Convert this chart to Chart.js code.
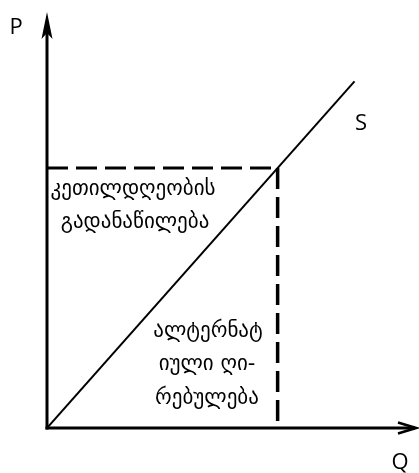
<!DOCTYPE html>
<html>
<head>
<meta charset="utf-8">
<script src="https://cdn.jsdelivr.net/npm/chart.js@4"></script>
<style>
  html, body { margin: 0; padding: 0; background: #fff; }
  #wrap { width: 419px; height: 473px; }
</style>
</head>
<body>
<div id="wrap"><canvas id="myChart" width="419" height="473"></canvas></div>
<script>
// axis ranges (Q horizontal, P vertical)
const qMax = 12;
const pMax = 12;
// supply curve S
const supplyQ = [0, 10];
const supplyP = [0, 10];
// equilibrium point
const eqQ = 7.5;
const eqP = 7.5;
// texts
const axisNames = ['P', 'Q', 'S'];
const welfareText = ['კეთილდღეობის', 'გადანაწილება'];
const altText = ['ალტერნატ', 'იული ღი-', 'რებულება'];

const supplyData = supplyQ.map((q, i) => ({x: q, y: supplyP[i]}));

// axes with arrows + labels
const drawExtras = {
    id: 'drawExtras',
    afterDatasetsDraw(chart) {
        const ctx = chart.ctx;
        const xs = chart.scales.x;
        const ys = chart.scales.y;
        const x0 = xs.getPixelForValue(0);
        const y0 = ys.getPixelForValue(0);
        const xEnd = xs.getPixelForValue(qMax);
        const yEnd = ys.getPixelForValue(pMax);
        ctx.save();
        ctx.strokeStyle = '#000';
        ctx.fillStyle = '#000';
        ctx.lineWidth = 3;
        // P axis
        ctx.beginPath();
        ctx.moveTo(x0, y0 + 1.5);
        ctx.lineTo(x0, yEnd + 15);
        ctx.stroke();
        ctx.beginPath();
        ctx.moveTo(x0, yEnd);
        ctx.lineTo(x0 - 5.5, yEnd + 27);
        ctx.lineTo(x0, yEnd + 21);
        ctx.lineTo(x0 + 5.5, yEnd + 27);
        ctx.closePath();
        ctx.fill();
        // Q axis
        ctx.beginPath();
        ctx.moveTo(x0 - 1.5, y0);
        ctx.lineTo(xEnd - 1, y0);
        ctx.stroke();
        ctx.lineWidth = 2.5;
        ctx.beginPath();
        ctx.moveTo(xEnd - 18, y0 - 5.5);
        ctx.lineTo(xEnd, y0);
        ctx.lineTo(xEnd - 18, y0 + 5.5);
        ctx.stroke();
        // axis letters
        ctx.font = '22px "Open Sans"';
        ctx.textAlign = 'center';
        ctx.textBaseline = 'middle';
        ctx.fillText(axisNames[0], 16, 28);
        ctx.fillText(axisNames[1], 400, 463);
        ctx.fillText(axisNames[2], 361, 124);
        // Georgian texts
        ctx.font = '21px "DejaVu Sans"';
        ctx.fillText(welfareText[0], 133, 190);
        ctx.fillText(welfareText[1], 135, 223);
        ctx.fillText(altText[0], 208, 332);
        ctx.fillText(altText[1], 207, 365);
        ctx.fillText(altText[2], 207, 399);
        ctx.restore();
    }
};

const config = {
    type: 'scatter',
    data: {
        datasets: [
            {
                label: 'S',
                data: supplyData,
                showLine: true,
                borderColor: '#000',
                borderWidth: 2,
                pointRadius: 0
            },
            {
                label: 'price',
                data: [{x: 0, y: eqP}, {x: eqQ, y: eqP}],
                showLine: true,
                borderColor: '#000',
                borderWidth: 3,
                borderDash: [21, 8],
                pointRadius: 0
            },
            {
                label: 'quantity',
                data: [{x: eqQ, y: eqP}, {x: eqQ, y: 0}],
                showLine: true,
                borderColor: '#000',
                borderWidth: 3.5,
                borderDash: [21, 8],
                pointRadius: 0
            }
        ]
    },
    options: {
        responsive: false,
        animation: false,
        layout: {
            padding: {left: 47, top: 12, right: 3, bottom: 45}
        },
        plugins: {
            legend: {display: false},
            tooltip: {enabled: false}
        },
        scales: {
            x: {type: 'linear', min: 0, max: qMax, display: false},
            y: {type: 'linear', min: 0, max: pMax, display: false}
        }
    },
    plugins: [drawExtras]
};

const chart = new Chart(document.getElementById('myChart'), config);
</script>
</body>
</html>
